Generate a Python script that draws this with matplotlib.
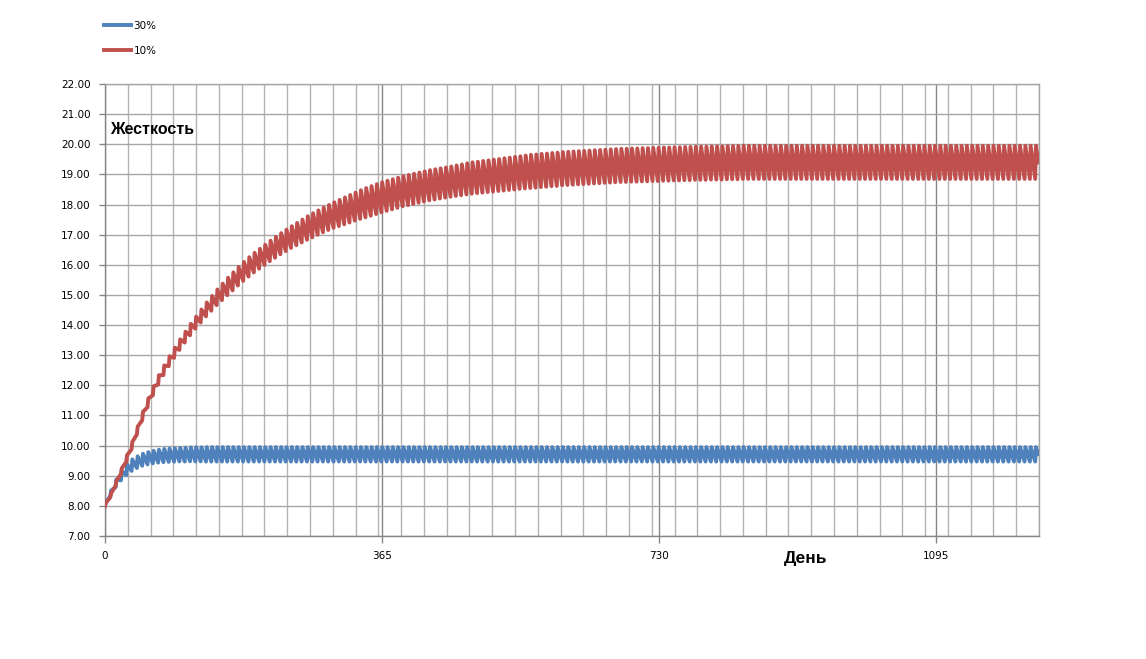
import numpy as np
import matplotlib
matplotlib.use("Agg")
import matplotlib.pyplot as plt

# ---- data (weekly cycles, day = 7*k) ----
series_labels = ["30%", "10%"]

# 10% series: centre of the weekly band and its peak-to-trough swing
red_mean = [
    8.05, 8.35, 8.75, 9.15, 9.57, 10.00, 10.50, 10.98, 11.42, 11.82,
    12.18, 12.50, 12.80, 13.08, 13.35, 13.60, 13.85, 14.08, 14.30, 14.52,
    14.72, 14.92, 15.10, 15.28, 15.45, 15.62, 15.78, 15.93, 16.07, 16.20,
    16.33, 16.46, 16.58, 16.70, 16.81, 16.92, 17.02, 17.12, 17.22, 17.31,
    17.40, 17.49, 17.57, 17.65, 17.72, 17.79, 17.86, 17.93, 18.00, 18.06,
    18.12, 18.18, 18.24, 18.29, 18.34, 18.39, 18.44, 18.48, 18.52, 18.56,
    18.60, 18.64, 18.67, 18.70, 18.73, 18.76, 18.79, 18.82, 18.85, 18.88,
    18.90, 18.92, 18.94, 18.96, 18.98, 19.00, 19.02, 19.04, 19.06, 19.08,
    19.10, 19.11, 19.13, 19.14, 19.16, 19.17, 19.19, 19.20, 19.21, 19.22,
    19.23, 19.24, 19.25, 19.26, 19.27, 19.28, 19.29, 19.30, 19.30, 19.31,
    19.31, 19.32, 19.32, 19.33, 19.33, 19.34, 19.34, 19.35, 19.35, 19.36,
    19.36, 19.37, 19.37, 19.37, 19.38, 19.38, 19.38, 19.39, 19.39, 19.39,
    19.40, 19.40, 19.40, 19.40, 19.40, 19.40, 19.40, 19.40, 19.40, 19.40,
    19.40, 19.40, 19.40, 19.40, 19.40, 19.40, 19.40, 19.40, 19.40, 19.40,
    19.40, 19.40, 19.40, 19.40, 19.40, 19.40, 19.40, 19.40, 19.40, 19.40,
    19.40, 19.40, 19.40, 19.40, 19.40, 19.40, 19.40, 19.40, 19.40, 19.40,
    19.40, 19.40, 19.40, 19.40, 19.40, 19.40, 19.40, 19.40, 19.40, 19.40,
    19.40, 19.40, 19.40, 19.40, 19.40, 19.40,
]
red_swing = [
    0.10, 0.13, 0.16, 0.19, 0.22, 0.25, 0.26, 0.28, 0.29, 0.30,
    0.31, 0.32, 0.33, 0.34, 0.35, 0.36, 0.38, 0.40, 0.43, 0.46,
    0.49, 0.52, 0.55, 0.58, 0.60, 0.62, 0.63, 0.64, 0.65, 0.66,
    0.67, 0.68, 0.69, 0.70, 0.71, 0.72, 0.74, 0.76, 0.78, 0.80,
    0.81, 0.82, 0.83, 0.85, 0.87, 0.89, 0.91, 0.93, 0.95, 0.97,
    0.98, 0.99, 1.00, 1.00, 1.00, 1.00, 1.00, 1.00, 1.00, 1.00,
    1.00, 1.00, 1.00, 1.00, 1.00, 1.00, 1.01, 1.02, 1.03, 1.04,
    1.04, 1.05, 1.05, 1.06, 1.06, 1.07, 1.07, 1.08, 1.08, 1.09,
    1.10, 1.10, 1.10, 1.10, 1.10, 1.10, 1.10, 1.10, 1.10, 1.10,
    1.10, 1.10, 1.10, 1.10, 1.10, 1.10, 1.10, 1.10, 1.10, 1.10,
    1.10, 1.10, 1.10, 1.10, 1.10, 1.10, 1.10, 1.10, 1.10, 1.10,
    1.10, 1.10, 1.10, 1.10, 1.10, 1.10, 1.10, 1.10, 1.10, 1.10,
    1.10, 1.10, 1.10, 1.10, 1.10, 1.10, 1.10, 1.10, 1.10, 1.10,
    1.10, 1.10, 1.10, 1.10, 1.10, 1.10, 1.10, 1.10, 1.10, 1.10,
    1.10, 1.10, 1.10, 1.10, 1.10, 1.10, 1.10, 1.10, 1.10, 1.10,
    1.10, 1.10, 1.10, 1.10, 1.10, 1.10, 1.10, 1.10, 1.10, 1.10,
    1.10, 1.10, 1.10, 1.10, 1.10, 1.10, 1.10, 1.10, 1.10, 1.10,
    1.10, 1.10, 1.10, 1.10, 1.10, 1.10,
]
red_end = 19.40

# 30% series
blue_mean = [
    8.05, 8.42, 8.75, 9.00, 9.20, 9.35, 9.45, 9.53, 9.58, 9.62,
    9.65, 9.67, 9.68, 9.69, 9.70, 9.70, 9.71, 9.71, 9.71, 9.71,
    9.71, 9.71, 9.71, 9.71, 9.71, 9.71, 9.71, 9.71, 9.71, 9.71,
    9.71, 9.71, 9.71, 9.71, 9.71, 9.71, 9.71, 9.71, 9.71, 9.71,
    9.71, 9.71, 9.71, 9.71, 9.71, 9.71, 9.71, 9.71, 9.71, 9.71,
    9.71, 9.71, 9.71, 9.71, 9.71, 9.71, 9.71, 9.71, 9.71, 9.71,
    9.71, 9.71, 9.71, 9.71, 9.71, 9.71, 9.71, 9.71, 9.71, 9.71,
    9.71, 9.71, 9.71, 9.71, 9.71, 9.71, 9.71, 9.71, 9.71, 9.71,
    9.71, 9.71, 9.71, 9.71, 9.71, 9.71, 9.71, 9.71, 9.71, 9.71,
    9.71, 9.71, 9.71, 9.71, 9.71, 9.71, 9.71, 9.71, 9.71, 9.71,
    9.71, 9.71, 9.71, 9.71, 9.71, 9.71, 9.71, 9.71, 9.71, 9.71,
    9.71, 9.71, 9.71, 9.71, 9.71, 9.71, 9.71, 9.71, 9.71, 9.71,
    9.71, 9.71, 9.71, 9.71, 9.71, 9.71, 9.71, 9.71, 9.71, 9.71,
    9.71, 9.71, 9.71, 9.71, 9.71, 9.71, 9.71, 9.71, 9.71, 9.71,
    9.71, 9.71, 9.71, 9.71, 9.71, 9.71, 9.71, 9.71, 9.71, 9.71,
    9.71, 9.71, 9.71, 9.71, 9.71, 9.71, 9.71, 9.71, 9.71, 9.71,
    9.71, 9.71, 9.71, 9.71, 9.71, 9.71, 9.71, 9.71, 9.71, 9.71,
    9.71, 9.71, 9.71, 9.71, 9.71, 9.71,
]
blue_swing = [
    0.10, 0.18, 0.25, 0.31, 0.36, 0.38, 0.39, 0.40, 0.41, 0.42,
    0.43, 0.44, 0.44, 0.45, 0.45, 0.46, 0.46, 0.47, 0.47, 0.48,
    0.48, 0.48, 0.48, 0.48, 0.48, 0.48, 0.48, 0.48, 0.48, 0.48,
    0.48, 0.48, 0.48, 0.48, 0.48, 0.48, 0.48, 0.48, 0.48, 0.48,
    0.48, 0.48, 0.48, 0.48, 0.48, 0.48, 0.48, 0.48, 0.48, 0.48,
    0.48, 0.48, 0.48, 0.48, 0.48, 0.48, 0.48, 0.48, 0.48, 0.48,
    0.48, 0.48, 0.48, 0.48, 0.48, 0.48, 0.48, 0.48, 0.48, 0.48,
    0.48, 0.48, 0.48, 0.48, 0.48, 0.48, 0.48, 0.48, 0.48, 0.48,
    0.48, 0.48, 0.48, 0.48, 0.48, 0.48, 0.48, 0.48, 0.48, 0.48,
    0.48, 0.48, 0.48, 0.48, 0.48, 0.48, 0.48, 0.48, 0.48, 0.48,
    0.48, 0.48, 0.48, 0.48, 0.48, 0.48, 0.48, 0.48, 0.48, 0.48,
    0.48, 0.48, 0.48, 0.48, 0.48, 0.48, 0.48, 0.48, 0.48, 0.48,
    0.48, 0.48, 0.48, 0.48, 0.48, 0.48, 0.48, 0.48, 0.48, 0.48,
    0.48, 0.48, 0.48, 0.48, 0.48, 0.48, 0.48, 0.48, 0.48, 0.48,
    0.48, 0.48, 0.48, 0.48, 0.48, 0.48, 0.48, 0.48, 0.48, 0.48,
    0.48, 0.48, 0.48, 0.48, 0.48, 0.48, 0.48, 0.48, 0.48, 0.48,
    0.48, 0.48, 0.48, 0.48, 0.48, 0.48, 0.48, 0.48, 0.48, 0.48,
    0.48, 0.48, 0.48, 0.48, 0.48, 0.48,
]
blue_end = 9.72

x_tick_values = [0, 365, 730, 1095]
y_tick_values = list(range(7, 23))
x_label = "День"
y_label = "Жесткость"
cycle_days = 7
last_day = 1229


def sawtooth(mean, swing, end_value):
    days, vals = [], []
    for k, (m, s) in enumerate(zip(mean, swing)):
        days += [cycle_days * k, cycle_days * k + 1]
        vals += [m - s / 2, m + s / 2]
    days.append(last_day)
    vals.append(end_value)
    return np.array(days), np.array(vals)


bx, by = sawtooth(blue_mean, blue_swing, blue_end)
rx, ry = sawtooth(red_mean, red_swing, red_end)

fig = plt.figure(figsize=(11.46, 6.59), dpi=100)
ax = fig.add_axes([105 / 1146, 1 - 536 / 659, (1039 - 105) / 1146, (536 - 84) / 659])

blue_c = "#4F81BD"
red_c = "#C0504D"
l1, = ax.plot(bx, by, color=blue_c, lw=2.8, zorder=3, solid_joinstyle="round")
l2, = ax.plot(rx, ry, color=red_c, lw=2.8, zorder=4, solid_joinstyle="round")

ax.set_xlim(0, 1230)
ax.set_ylim(7, 22)
ax.set_yticks(y_tick_values)
ax.set_yticklabels([f"{v:.2f}" for v in y_tick_values])
ax.set_xticks(x_tick_values)
ax.set_xticklabels([str(v) for v in x_tick_values])
ax.set_xticks(np.arange(0, 1231, 30), minor=True)

ax.grid(which="minor", axis="x", color="#b3b3b3", lw=1.0, zorder=0)
ax.grid(which="major", axis="x", color="#868686", lw=1.0, zorder=1)
ax.grid(which="major", axis="y", color="#a6a6a6", lw=1.0, zorder=0)
ax.set_axisbelow(True)

for side in ["top", "right"]:
    ax.spines[side].set_color("#a6a6a6")
    ax.spines[side].set_linewidth(1.0)
for side in ["left", "bottom"]:
    ax.spines[side].set_color("#868686")
    ax.spines[side].set_linewidth(1.0)

ax.tick_params(axis="y", which="major", direction="out", length=4, width=1,
               color="#868686", labelsize=7.5, pad=6.5)
ax.tick_params(axis="x", which="major", direction="out", length=5, width=1,
               color="#868686", labelsize=7.5, pad=6)
ax.tick_params(axis="x", which="minor", length=0)

fig.text(110 / 1146, 1 - 130 / 659, y_label,
         fontsize=11.5, fontweight="bold", family="Liberation Sans",
         ha="left", va="center")
fig.text(806 / 1146, 1 - 559 / 659, x_label, fontsize=12.5, fontweight="bold",
         family="Liberation Sans", ha="center", va="center")

fig.legend([l1, l2], series_labels, loc="upper left",
           bbox_to_anchor=(104 / 1146, 1 - 21 / 659), frameon=False,
           fontsize=7.5, handlelength=2.57, handletextpad=0.25,
           labelspacing=1.45, borderpad=0, borderaxespad=0)

fig.savefig("out.png", dpi=100, facecolor="white")
